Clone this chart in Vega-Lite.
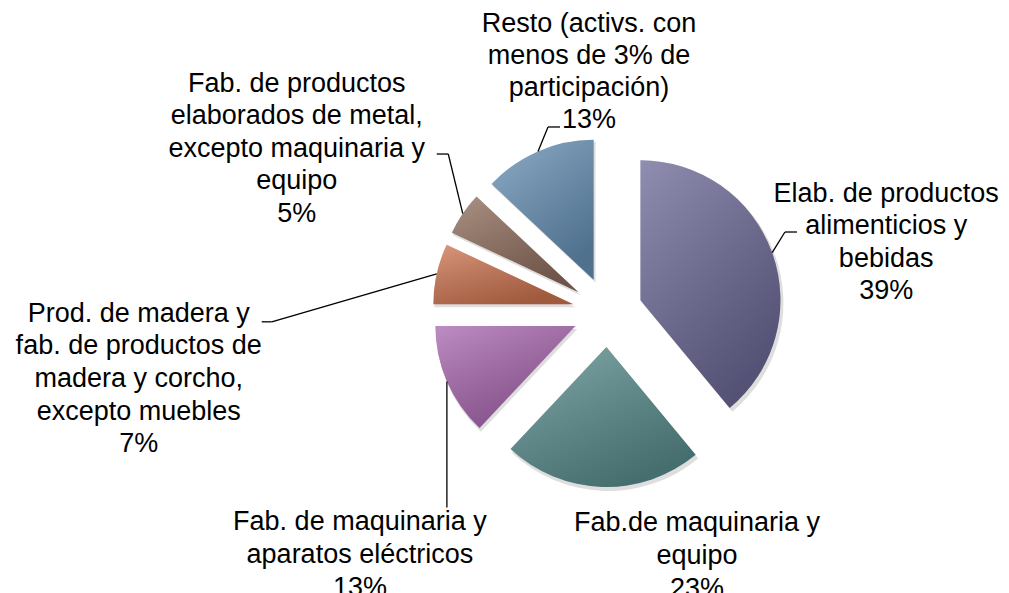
{
  "$schema": "https://vega.github.io/schema/vega-lite/v6.json",
  "width": 1009,
  "height": 593,
  "autosize": {"type": "none"},
  "padding": 0,
  "background": "white",
  "config": {"view": {"stroke": null}},
  "data": {
    "values": [
      {"order": 1, "sector": "Elab. de productos\nalimenticios y\nbebidas", "pct": 39},
      {"order": 2, "sector": "Fab.de maquinaria y\nequipo", "pct": 23},
      {"order": 3, "sector": "Fab. de maquinaria y\naparatos eléctricos", "pct": 13},
      {"order": 4, "sector": "Prod. de madera y\nfab. de productos de\nmadera y corcho,\nexcepto muebles", "pct": 7},
      {"order": 5, "sector": "Fab. de productos\nelaborados de metal,\nexcepto maquinaria y\nequipo", "pct": 5},
      {"order": 6, "sector": "Resto (activs. con\nmenos de 3% de\nparticipación)", "pct": 13}
    ]
  },
  "transform": [
    {"window": [{"op": "sum", "field": "pct", "as": "cum"}], "sort": [{"field": "order", "order": "ascending"}], "frame": [null, 0]},
    {"joinaggregate": [{"op": "sum", "field": "pct", "as": "total"}]},
    {"calculate": "(datum.cum - datum.pct) / datum.total", "as": "t0"},
    {"calculate": "datum.cum / datum.total", "as": "t1"},
    {"calculate": "PI * (datum.t0 + datum.t1)", "as": "mid"},
    {"calculate": "sin(datum.mid)", "as": "cx"},
    {"calculate": "cos(datum.mid)", "as": "cy"},
    {"calculate": "5 * datum.cx", "as": "lx"},
    {"calculate": "5 * datum.cy", "as": "ly"},
    {"calculate": "datum.sector + '\\n' + datum.pct + '%'", "as": "txt"}
  ],
  "layer": [
    {
      "mark": {"type": "arc", "outerRadius": 141, "fill": "#000000", "opacity": 0.13, "xOffset": 2, "yOffset": 3},
      "encoding": {
        "x": {"field": "cx", "type": "quantitative", "scale": {"domain": [-17.357, 11.471], "nice": false, "zero": false}, "axis": null},
        "y": {"field": "cy", "type": "quantitative", "scale": {"domain": [-8.029, 8.914], "nice": false, "zero": false}, "axis": null},
        "theta": {"field": "t0", "type": "quantitative", "scale": {"domain": [0, 1]}},
        "theta2": {"field": "t1"}
      }
    },
    {
      "mark": {"type": "arc", "outerRadius": 140},
      "encoding": {
        "x": {"field": "cx", "type": "quantitative", "scale": {"domain": [-17.357, 11.471], "nice": false, "zero": false}, "axis": null},
        "y": {"field": "cy", "type": "quantitative", "scale": {"domain": [-8.029, 8.914], "nice": false, "zero": false}, "axis": null},
        "theta": {"field": "t0", "type": "quantitative", "scale": {"domain": [0, 1]}},
        "theta2": {"field": "t1"},
        "color": {"field": "order", "type": "nominal", "scale": {"domain": [1, 2, 3, 4, 5, 6], "range": ["#6B6896", "#5A8D8D", "#A766AE", "#CD7450", "#8E6D5C", "#6791B6"]}, "legend": null}
      }
    },
    {
      "mark": {"type": "arc", "outerRadius": 140, "fill": {"gradient": "linear", "x1": 0, "y1": 0, "x2": 0.6, "y2": 1, "stops": [{"offset": 0, "color": "rgba(255,255,255,0.25)"}, {"offset": 1, "color": "rgba(0,0,0,0.22)"}]}},
      "encoding": {
        "x": {"field": "cx", "type": "quantitative", "scale": {"domain": [-17.357, 11.471], "nice": false, "zero": false}, "axis": null},
        "y": {"field": "cy", "type": "quantitative", "scale": {"domain": [-8.029, 8.914], "nice": false, "zero": false}, "axis": null},
        "theta": {"field": "t0", "type": "quantitative", "scale": {"domain": [0, 1]}},
        "theta2": {"field": "t1"}
      }
    },
    {
      "transform": [{"filter": "datum.order == 1"}],
      "layer": [
        {"mark": {"type": "rule", "stroke": "#000", "strokeWidth": 1.3, "x2Offset": 12.8, "y2Offset": -20.7}},
        {"mark": {"type": "rule", "stroke": "#000", "strokeWidth": 1.3, "xOffset": 12.8, "yOffset": -20.7, "x2Offset": 24.8, "y2Offset": -20.7}},
        {"mark": {"type": "text", "align": "center", "baseline": "top", "lineBreak": "\n", "font": "Liberation Sans", "fontSize": 27, "lineHeight": 32.5, "color": "#000", "dx": 114, "dy": -72}, "encoding": {"text": {"field": "txt"}}}
      ],
      "encoding": {
        "x": {"field": "lx", "type": "quantitative", "scale": {"domain": [-17.357, 11.471], "nice": false, "zero": false}, "axis": null},
        "y": {"field": "ly", "type": "quantitative", "scale": {"domain": [-8.029, 8.914], "nice": false, "zero": false}, "axis": null},
        "x2": {"field": "lx"},
        "y2": {"field": "ly"}
      }
    },
    {
      "transform": [{"filter": "datum.order == 2"}],
      "mark": {"type": "text", "align": "center", "baseline": "top", "lineBreak": "\n", "font": "Liberation Sans", "fontSize": 27, "lineHeight": 33, "color": "#000", "dx": 95, "dy": 23},
      "encoding": {
        "x": {"field": "lx", "type": "quantitative", "scale": {"domain": [-17.357, 11.471], "nice": false, "zero": false}, "axis": null},
        "y": {"field": "ly", "type": "quantitative", "scale": {"domain": [-8.029, 8.914], "nice": false, "zero": false}, "axis": null},
        "text": {"field": "txt"}
      }
    },
    {
      "transform": [{"filter": "datum.order == 3"}],
      "layer": [
        {"mark": {"type": "rule", "stroke": "#000", "strokeWidth": 1.3, "x2Offset": 0, "y2Offset": 126}},
        {"mark": {"type": "text", "align": "center", "baseline": "top", "lineBreak": "\n", "font": "Liberation Sans", "fontSize": 27, "lineHeight": 33, "color": "#000", "dx": -87, "dy": 128}, "encoding": {"text": {"field": "txt"}}}
      ],
      "encoding": {
        "x": {"field": "lx", "type": "quantitative", "scale": {"domain": [-17.357, 11.471], "nice": false, "zero": false}, "axis": null},
        "y": {"field": "ly", "type": "quantitative", "scale": {"domain": [-8.029, 8.914], "nice": false, "zero": false}, "axis": null},
        "x2": {"field": "lx"},
        "y2": {"field": "ly"}
      }
    },
    {
      "transform": [{"filter": "datum.order == 4"}],
      "layer": [
        {"mark": {"type": "rule", "stroke": "#000", "strokeWidth": 1.3, "x2Offset": -165, "y2Offset": 48}},
        {"mark": {"type": "rule", "stroke": "#000", "strokeWidth": 1.3, "xOffset": -165, "yOffset": 48, "x2Offset": -175, "y2Offset": 48}},
        {"mark": {"type": "text", "align": "center", "baseline": "top", "lineBreak": "\n", "font": "Liberation Sans", "fontSize": 27, "lineHeight": 32.6, "color": "#000", "dx": -298, "dy": 27}, "encoding": {"text": {"field": "txt"}}}
      ],
      "encoding": {
        "x": {"field": "lx", "type": "quantitative", "scale": {"domain": [-17.357, 11.471], "nice": false, "zero": false}, "axis": null},
        "y": {"field": "ly", "type": "quantitative", "scale": {"domain": [-8.029, 8.914], "nice": false, "zero": false}, "axis": null},
        "x2": {"field": "lx"},
        "y2": {"field": "ly"}
      }
    },
    {
      "transform": [{"filter": "datum.order == 5"}],
      "layer": [
        {"mark": {"type": "rule", "stroke": "#000", "strokeWidth": 1.3, "x2Offset": -14.5, "y2Offset": -59.6}},
        {"mark": {"type": "rule", "stroke": "#000", "strokeWidth": 1.3, "xOffset": -14.5, "yOffset": -59.6, "x2Offset": -26, "y2Offset": -59.6}},
        {"mark": {"type": "text", "align": "center", "baseline": "top", "lineBreak": "\n", "font": "Liberation Sans", "fontSize": 27, "lineHeight": 32.5, "color": "#000", "dx": -166, "dy": -143}, "encoding": {"text": {"field": "txt"}}}
      ],
      "encoding": {
        "x": {"field": "lx", "type": "quantitative", "scale": {"domain": [-17.357, 11.471], "nice": false, "zero": false}, "axis": null},
        "y": {"field": "ly", "type": "quantitative", "scale": {"domain": [-8.029, 8.914], "nice": false, "zero": false}, "axis": null},
        "x2": {"field": "lx"},
        "y2": {"field": "ly"}
      }
    },
    {
      "transform": [{"filter": "datum.order == 6"}],
      "layer": [
        {"mark": {"type": "rule", "stroke": "#000", "strokeWidth": 1.3, "x2Offset": 10, "y2Offset": -24.4}},
        {"mark": {"type": "rule", "stroke": "#000", "strokeWidth": 1.3, "xOffset": 10, "yOffset": -24.4, "x2Offset": 22, "y2Offset": -24.4}},
        {"mark": {"type": "text", "align": "center", "baseline": "top", "lineBreak": "\n", "font": "Liberation Sans", "fontSize": 27, "lineHeight": 32, "color": "#000", "dx": 51, "dy": -140}, "encoding": {"text": {"field": "txt"}}}
      ],
      "encoding": {
        "x": {"field": "lx", "type": "quantitative", "scale": {"domain": [-17.357, 11.471], "nice": false, "zero": false}, "axis": null},
        "y": {"field": "ly", "type": "quantitative", "scale": {"domain": [-8.029, 8.914], "nice": false, "zero": false}, "axis": null},
        "x2": {"field": "lx"},
        "y2": {"field": "ly"}
      }
    }
  ]
}
